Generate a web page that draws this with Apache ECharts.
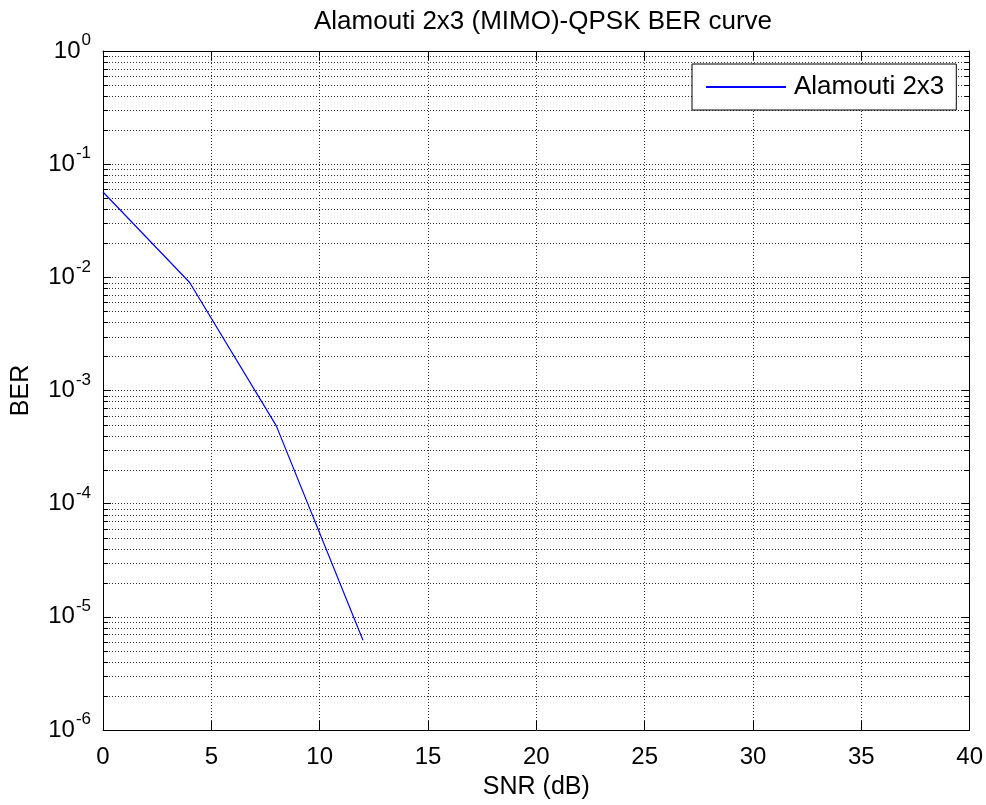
<!DOCTYPE html>
<html>
<head>
<meta charset="utf-8">
<script src="https://cdn.jsdelivr.net/npm/echarts@6/dist/echarts.min.js"></script>
<style>
  html, body { margin: 0; padding: 0; background: #fff; }
  #chart { width: 986px; height: 805px; }
</style>
</head>
<body>
<div id="chart"></div>
<script>
// SNR points (dB) and simulated bit error rate
const snrDb = [0, 4, 8, 12];
const ber = [0.0568, 0.0090, 0.000487, 0.0000062];

// axis ranges and ticks
const xTicks = [0, 5, 10, 15, 20, 25, 30, 35, 40];
const decadeExponents = [-6, -5, -4, -3, -2, -1];
const minorSteps = [2, 3, 4, 5, 6, 7, 8, 9];

const seriesName = 'Alamouti 2x3';
const titleText = 'Alamouti 2x3 (MIMO)-QPSK BER curve';

const FONT = 'Liberation Sans, Arial, sans-serif';

// minor log grid values (2..9 within every decade)
const minorValues = [];
decadeExponents.forEach(function (e) {
  minorSteps.forEach(function (m) {
    minorValues.push([xTicks[0], m * Math.pow(10, e)]);
  });
});

const chart = echarts.init(document.getElementById('chart'), null, { renderer: 'canvas' });

function supLabel(v) {
  const e = Math.round(Math.log10(v));
  return '{b|10}{s|' + e + '}';
}

const labelRich = {
  b: { fontSize: 24, fontFamily: FONT, color: '#000', verticalAlign: 'bottom', lineHeight: 24 },
  s: { fontSize: 17, fontFamily: FONT, color: '#000', verticalAlign: 'bottom', lineHeight: 17, padding: [0, 0, 14, 1] }
};

const option = {
  backgroundColor: '#fff',
  animation: false,
  title: {
    text: titleText,
    left: 538,
    textAlign: 'center',
    top: 4,
    textStyle: { fontFamily: FONT, fontSize: 26, fontWeight: 'normal', color: '#000' }
  },
  legend: {
    data: [seriesName],
    left: 692,
    top: 64,
    padding: [10, 12, 10, 14],
    itemWidth: 80,
    itemHeight: 2,
    icon: 'rect',
    backgroundColor: '#fff',
    borderColor: '#000',
    borderWidth: 1,
    borderRadius: 0,
    textStyle: { fontFamily: FONT, fontSize: 26, color: '#000', padding: [0, 0, 0, 3] }
  },
  grid: { left: 103, right: 14, top: 51, bottom: 70, containLabel: false },
  xAxis: [
    {
      type: 'value', min: 0, max: 40, interval: 5, position: 'bottom',
      name: 'SNR (dB)', nameLocation: 'middle', nameGap: 45,
      nameTextStyle: { fontFamily: FONT, fontSize: 25, color: '#000' },
      axisLine: { show: true, onZero: false, lineStyle: { color: '#000', width: 1 } },
      axisTick: { show: true, inside: true, length: 9, lineStyle: { color: '#000' } },
      axisLabel: { fontFamily: FONT, fontSize: 24, color: '#000', margin: 15 },
      splitLine: { show: true, lineStyle: { color: '#333', type: [1, 2], width: 1 } }
    },
    {
      type: 'value', min: 0, max: 40, interval: 5, position: 'top',
      axisLine: { show: true, onZero: false, lineStyle: { color: '#000', width: 1 } },
      axisTick: { show: true, inside: true, length: 9, lineStyle: { color: '#000' } },
      axisLabel: { show: false },
      splitLine: { show: false }
    }
  ],
  yAxis: [
    {
      type: 'log', logBase: 10, min: 1e-6, max: 1, splitNumber: 6, position: 'left',
      name: 'BER', nameLocation: 'middle', nameGap: 69, nameRotate: 90,
      nameTextStyle: { fontFamily: FONT, fontSize: 25, color: '#000' },
      axisLine: { show: true, onZero: false, lineStyle: { color: '#000', width: 1 } },
      axisTick: { show: true, inside: true, length: 8, lineStyle: { color: '#000' } },
      axisLabel: { formatter: supLabel, rich: labelRich, margin: 12 },
      splitLine: { show: true, lineStyle: { color: '#333', type: [1, 2], width: 1 } }
    },
    {
      type: 'log', logBase: 10, min: 1e-6, max: 1, splitNumber: 6, position: 'right',
      axisLine: { show: true, onZero: false, lineStyle: { color: '#000', width: 1 } },
      axisTick: { show: true, inside: true, length: 8, lineStyle: { color: '#000' } },
      axisLabel: { show: false },
      splitLine: { show: false }
    }
  ],
  series: [
    {
      // minor log grid lines with short inward ticks on both vertical axes
      type: 'custom',
      xAxisIndex: 0, yAxisIndex: 0,
      silent: true,
      z: 1,
      encode: { x: 0, y: 1 },
      data: minorValues,
      renderItem: function (params, api) {
        const cs = params.coordSys;
        const y = Math.round(api.coord([api.value(0), api.value(1)])[1]) + 0.5;
        const x0 = cs.x, x1 = cs.x + cs.width;
        return {
          type: 'group',
          children: [
            { type: 'line', shape: { x1: x0, y1: y, x2: x1, y2: y },
              style: { stroke: '#333', lineWidth: 1, lineDash: [1, 2] } },
            { type: 'line', shape: { x1: x0, y1: y, x2: x0 + 5, y2: y },
              style: { stroke: '#000', lineWidth: 1 } },
            { type: 'line', shape: { x1: x1 - 5, y1: y, x2: x1, y2: y },
              style: { stroke: '#000', lineWidth: 1 } }
          ]
        };
      }
    },
    {
      name: seriesName,
      type: 'line',
      xAxisIndex: 0, yAxisIndex: 0,
      data: snrDb.map(function (x, i) { return [x, ber[i]]; }),
      symbol: 'none',
      z: 3,
      lineStyle: { color: '#0000ff', width: 1.2 },
      itemStyle: { color: '#0000ff' }
    }
  ]
};

chart.setOption(option);
</script>
</body>
</html>
